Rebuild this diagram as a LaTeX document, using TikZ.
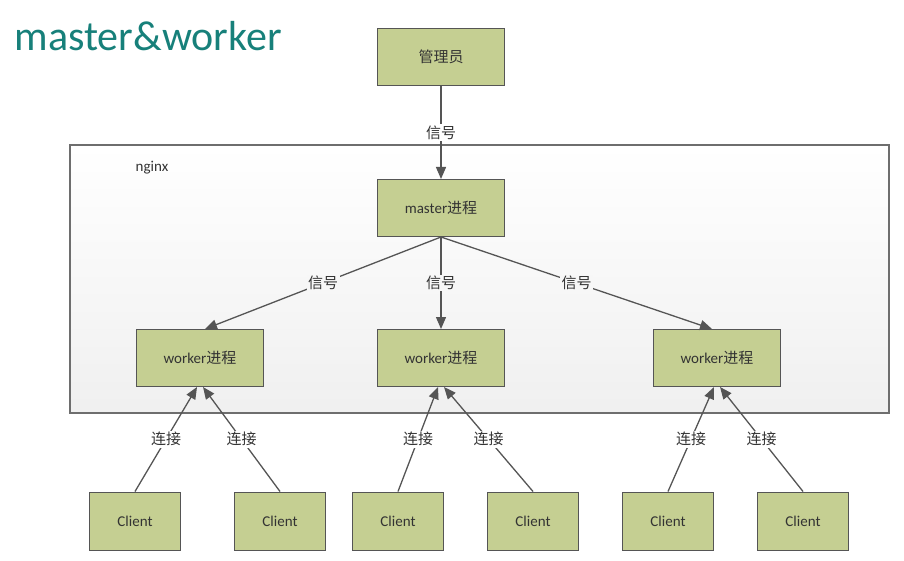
\documentclass[tikz,border=0pt]{standalone}
\usepackage{fontspec}
\setmainfont{Carlito}
\newfontfamily\cjk{Noto Sans CJK SC}
\usetikzlibrary{arrows.meta}

\definecolor{boxgreen}{HTML}{C5CF92}
\definecolor{edgegray}{HTML}{555555}
\definecolor{textgray}{HTML}{333333}
\definecolor{framegray}{HTML}{6E6E6E}
\definecolor{titleteal}{HTML}{17807A}

\begin{document}
\begin{tikzpicture}[x=1pt,y=-1pt,
  proc/.style={draw=edgegray, line width=1pt, fill=boxgreen, minimum width=127pt, minimum height=57pt, inner sep=0pt, text=textgray, font=\fontsize{15}{17}\selectfont},
  client/.style={proc, minimum width=91pt, minimum height=58pt},
  lbl/.style={fill=white, inner sep=1.5pt, text=textgray, font=\cjk\fontsize{15}{17}\selectfont},
  arr/.style={-{Triangle[width=10pt,length=12pt]}, draw=edgegray, line width=1.3pt}]

\useasboundingbox (0,0) rectangle (904,561);

\node[anchor=west, text=titleteal, font=\fontsize{42}{46}\selectfont] (title) at (11,36) {master\&worker};

\node[draw=framegray, line width=1.2pt, top color=white, bottom color=black!6, minimum width=819pt, minimum height=268pt, inner sep=0pt] (nginx) at (479.5,279) {};
\node[text=textgray, font=\fontsize{15}{17}\selectfont] (nginxlbl) at (152,168) {nginx};

\draw
(441,57) node[proc] (admin) {\cjk 管理员}
(441,208) node[proc] (master) {master\cjk 进程}
(200,358) node[proc] (w1) {worker\cjk 进程}
(441,358) node[proc] (w2) {worker\cjk 进程}
(717,358) node[proc] (w3) {worker\cjk 进程}
(135,521) node[client] (c1) {Client}
(280,521) node[client] (c2) {Client}
(398,521) node[client] (c3) {Client}
(533,521) node[client] (c4) {Client}
(668,521) node[client] (c5) {Client}
(803,521) node[client] (c6) {Client};

% signals
\draw[arr] (admin) -- node[lbl] {信号} (master);
\draw[arr] (master.south) -- node[lbl, fill=black!3] {信号} ([xshift=5pt]w1.north);
\draw[arr] (master.south) -- node[lbl, fill=black!3] {信号} (w2.north);
\draw[arr] (master.south) -- node[lbl, fill=black!3] {信号} ([xshift=-5pt]w3.north);
% connections
\draw[arr] (c1.north) -- node[lbl] {连接} ([xshift=-3pt]w1.south);
\draw[arr] (c2.north) -- node[lbl] {连接} ([xshift=3pt]w1.south);
\draw[arr] (c3.north) -- node[lbl] {连接} ([xshift=-3pt]w2.south);
\draw[arr] (c4.north) -- node[lbl] {连接} ([xshift=3pt]w2.south);
\draw[arr] (c5.north) -- node[lbl] {连接} ([xshift=-3pt]w3.south);
\draw[arr] (c6.north) -- node[lbl] {连接} ([xshift=3pt]w3.south);
\end{tikzpicture}
\end{document}
